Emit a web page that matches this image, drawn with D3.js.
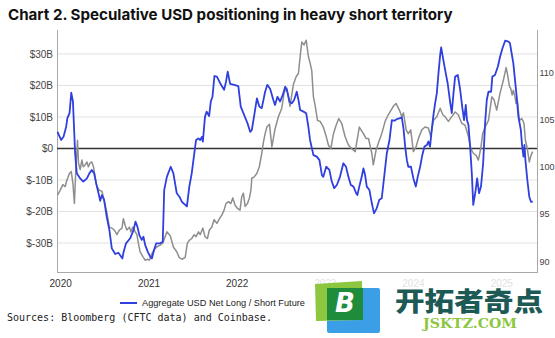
<!DOCTYPE html>
<html>
<head>
<meta charset="utf-8">
<script src="https://cdn.jsdelivr.net/npm/d3@7"></script>
<style>
  html, body { margin: 0; padding: 0; background: #fff; }
  svg { display: block; }
</style>
</head>
<body>
<svg id="chart" width="555" height="338"></svg>
<script>
// Aggregate USD net long / short futures position (CFTC), $ billions
const positionDates = [
  "2019-12-21","2020-01-05","2020-01-15","2020-01-26","2020-01-31","2020-02-09","2020-02-16","2020-02-23","2020-02-28","2020-03-03",
  "2020-03-10","2020-03-24","2020-04-06","2020-04-21","2020-05-01","2020-05-11","2020-05-21","2020-05-29","2020-06-08","2020-06-15",
  "2020-06-22","2020-07-01","2020-07-12","2020-07-23","2020-08-02","2020-08-16","2020-08-29","2020-09-05","2020-09-15","2020-09-19",
  "2020-09-30","2020-10-17","2020-10-31","2020-11-08","2020-11-16","2020-11-24","2020-12-04","2020-12-11","2020-12-18","2020-12-29",
  "2021-01-08","2021-01-15","2021-01-24","2021-02-02","2021-02-18","2021-03-01","2021-03-07","2021-03-18","2021-04-03","2021-04-14",
  "2021-04-28","2021-05-09","2021-05-19","2021-06-02","2021-06-09","2021-06-19","2021-06-29","2021-07-06","2021-07-17","2021-07-27",
  "2021-08-03","2021-08-10","2021-08-14","2021-08-23","2021-08-30","2021-09-09","2021-09-16","2021-09-23","2021-10-01","2021-10-11",
  "2021-10-25","2021-11-10","2021-11-18","2021-11-25","2021-12-05","2021-12-22","2022-01-08","2022-01-18","2022-01-29","2022-02-15",
  "2022-02-26","2022-03-05","2022-03-14","2022-03-26","2022-04-05","2022-04-15","2022-04-29","2022-05-08","2022-05-20","2022-06-02",
  "2022-06-09","2022-06-19","2022-06-30","2022-07-11","2022-07-21","2022-07-28","2022-08-08","2022-08-17","2022-08-27","2022-09-07",
  "2022-09-14","2022-09-21","2022-10-05","2022-10-16","2022-10-25","2022-11-01","2022-11-15","2022-11-29","2022-12-10","2022-12-20",
  "2022-12-26","2023-01-07","2023-01-20","2023-01-30","2023-02-09","2023-02-20","2023-03-05","2023-03-19","2023-03-30","2023-04-09",
  "2023-04-19","2023-04-30","2023-05-11","2023-05-16","2023-05-24","2023-06-03","2023-06-10","2023-06-17","2023-06-24","2023-07-05",
  "2023-07-15","2023-07-24","2023-08-04","2023-08-15","2023-08-25","2023-09-04","2023-09-15","2023-09-26","2023-10-06","2023-10-16",
  "2023-10-26","2023-11-09","2023-11-16","2023-11-23","2023-11-30","2023-12-07","2023-12-13","2023-12-24","2024-01-03","2024-01-13",
  "2024-01-21","2024-01-31","2024-02-09","2024-02-18","2024-02-28","2024-03-05","2024-03-12","2024-03-19","2024-03-26","2024-04-02",
  "2024-04-09","2024-04-16","2024-04-23","2024-04-27","2024-05-06","2024-05-16","2024-05-24","2024-06-03","2024-06-10","2024-06-17",
  "2024-06-24","2024-07-05","2024-07-14","2024-07-24","2024-07-31","2024-08-07","2024-08-12","2024-08-18","2024-08-25","2024-09-01",
  "2024-09-07","2024-09-17","2024-09-23","2024-10-01","2024-10-09","2024-10-18","2024-10-26","2024-11-02","2024-11-09","2024-11-20",
  "2024-11-25","2024-12-06","2024-12-18","2024-12-27","2025-01-06","2025-01-17","2025-01-31","2025-02-06","2025-02-20","2025-03-06",
  "2025-03-13","2025-03-23","2025-03-28","2025-04-03","2025-04-07","2025-04-11","2025-04-19","2025-04-27","2025-05-04","2025-05-11"
];
const positionValues = [
  5.3, 2.7, 3.7, 6.9, 9.6, 11.2, 17.7, 14.9, 5.9, -1.5,
  -7.9, -9.5, -10.5, -9.5, -7.9, -6.8, -7.9, -11.0, -14.2, -16.6,
  -14.8, -16.3, -21.7, -25.9, -31.7, -33.5, -33.1, -33.8, -34.9, -33.1,
  -30.1, -28.5, -25.9, -23.2, -24.8, -27.5, -29.0, -28.0, -30.6, -32.8,
  -34.3, -34.9, -32.2, -30.1, -30.1, -29.6, -13.2, -9.0, -5.8, -7.9,
  -14.2, -15.3, -16.9, -17.9, -18.4, -12.1, -7.9, -3.7, 2.7, 3.2,
  2.7, 3.7, 2.2, 10.1, 11.7, 10.3, 14.9, 16.4, 23.0, 22.8,
  20.7, 18.6, 21.2, 24.4, 20.5, 20.2, 19.8, 13.3, 11.2, 8.0,
  5.3, 5.9, 10.1, 15.9, 13.3, 12.8, 18.0, 20.2, 18.9, 15.4,
  13.8, 16.4, 14.9, 17.0, 19.6, 18.6, 14.9, 14.3, 15.4, 18.0,
  15.4, 12.2, 11.7, 11.2, 6.9, 2.7, -2.1, -2.6, -3.7, -8.4,
  -9.0, -5.8, -6.8, -10.5, -12.6, -11.6, -9.0, -4.7, -5.8, -9.0,
  -11.6, -12.1, -14.2, -14.8, -12.1, -9.0, -6.3, -8.4, -12.1, -13.2,
  -17.4, -20.6, -19.0, -16.3, -15.8, -9.0, -1.5, 2.7, 9.0, 8.8,
  9.3, 9.6, 9.9, 6.4, 0.6, -3.7, -5.8, -5.8, -9.5, -12.1,
  -9.0, -5.8, -2.1, 0.6, 1.1, 2.2, 0.6, 5.9, 10.6, 14.3,
  17.5, 23.9, 29.7, 32.1, 28.1, 23.9, 20.7, 14.9, 11.2, 17.5,
  22.8, 23.3, 19.1, 12.8, 9.0, 13.8, 9.0, 7.5, 0.6, -7.9,
  -17.9, -13.2, -9.5, -14.2, -12.1, -4.7, 8.0, 15.4, 18.0, 18.0,
  22.8, 23.3, 26.0, 29.1, 31.8, 34.2, 33.9, 33.4, 27.0, 16.4,
  10.1, 5.9, 1.1, -2.6, 1.1, -3.7, -10.0, -15.3, -16.9, -16.9
];

// US dollar index (right axis)
const dxyDates = [
  "2019-12-21","2020-01-01","2020-01-12","2020-01-22","2020-01-29","2020-02-09","2020-02-16","2020-02-23","2020-02-29","2020-03-06",
  "2020-03-13","2020-03-17","2020-03-24","2020-03-31","2020-04-06","2020-04-14","2020-04-21","2020-04-27","2020-05-04","2020-05-11",
  "2020-05-18","2020-05-25","2020-06-01","2020-06-12","2020-06-22","2020-07-01","2020-07-12","2020-07-23","2020-08-02","2020-08-12",
  "2020-08-23","2020-09-03","2020-09-13","2020-09-19","2020-09-26","2020-10-03","2020-10-14","2020-10-20","2020-10-28","2020-11-07",
  "2020-11-14","2020-11-20","2020-11-27","2020-12-08","2020-12-18","2020-12-28","2021-01-05","2021-01-15","2021-01-24","2021-02-04",
  "2021-02-18","2021-03-01","2021-03-18","2021-04-01","2021-04-14","2021-04-28","2021-05-08","2021-05-19","2021-06-02","2021-06-11",
  "2021-06-19","2021-06-29","2021-07-09","2021-07-17","2021-07-27","2021-08-03","2021-08-14","2021-08-23","2021-09-02","2021-09-10",
  "2021-09-20","2021-09-30","2021-10-11","2021-10-22","2021-11-01","2021-11-10","2021-11-18","2021-11-28","2021-12-08","2021-12-16",
  "2021-12-26","2022-01-04","2022-01-15","2022-01-22","2022-01-29","2022-02-05","2022-02-15","2022-02-23","2022-03-01","2022-03-05",
  "2022-03-14","2022-03-26","2022-04-05","2022-04-15","2022-04-22","2022-04-29","2022-05-06","2022-05-17","2022-05-27","2022-06-09",
  "2022-06-23","2022-07-07","2022-07-17","2022-07-28","2022-08-10","2022-08-24","2022-09-04","2022-09-14","2022-09-24","2022-09-28",
  "2022-10-07","2022-10-16","2022-10-25","2022-11-01","2022-11-08","2022-11-15","2022-11-22","2022-12-02","2022-12-13","2022-12-26",
  "2023-01-07","2023-01-16","2023-01-26","2023-02-06","2023-02-17","2023-02-28","2023-03-12","2023-03-26","2023-04-09","2023-04-23",
  "2023-05-07","2023-05-24","2023-06-10","2023-06-21","2023-07-01","2023-07-15","2023-07-21","2023-08-02","2023-08-15","2023-08-25",
  "2023-09-08","2023-09-21","2023-10-12","2023-10-23","2023-11-06","2023-11-16","2023-11-23","2023-12-04","2023-12-13","2023-12-23",
  "2024-01-03","2024-01-14","2024-01-24","2024-02-07","2024-02-20","2024-03-05","2024-03-15","2024-03-26","2024-04-09","2024-04-23",
  "2024-05-04","2024-05-13","2024-05-27","2024-06-10","2024-06-24","2024-07-07","2024-07-21","2024-08-04","2024-08-18","2024-08-28",
  "2024-09-08","2024-09-19","2024-09-28","2024-10-08","2024-10-16","2024-10-26","2024-11-09","2024-11-23","2024-12-02","2024-12-13",
  "2024-12-27","2025-01-10","2025-01-21","2025-01-26","2025-02-04","2025-02-09","2025-02-15","2025-02-20","2025-02-27","2025-03-03",
  "2025-03-09","2025-03-17","2025-03-27","2025-04-05","2025-04-11","2025-04-19","2025-04-27","2025-05-03","2025-05-11"
];
const dxyValues = [
  97.0, 97.5, 98.1, 97.9, 98.6, 99.3, 99.5, 98.2, 96.1, 99.7,
  102.8, 100.4, 99.7, 100.7, 100.0, 100.2, 100.5, 100.0, 100.4, 100.5,
  100.0, 98.9, 97.9, 97.5, 97.4, 96.5, 95.2, 93.6, 93.5, 93.3,
  92.8, 93.3, 93.5, 94.5, 93.8, 93.3, 93.6, 93.1, 93.6, 93.1,
  92.8, 91.9, 91.0, 90.5, 90.1, 90.2, 90.1, 90.8, 91.2, 91.5,
  91.7, 91.9, 93.1, 92.7, 91.5, 91.0, 90.4, 90.2, 90.4, 91.9,
  92.2, 92.4, 92.8, 92.6, 93.1, 92.8, 93.5, 92.6, 92.4, 93.3,
  93.6, 94.4, 94.0, 94.5, 94.9, 95.4, 96.1, 96.3, 96.1, 96.7,
  95.9, 95.6, 95.4, 96.8, 97.2, 95.8, 96.1, 96.7, 97.5, 98.8,
  98.9, 99.3, 100.0, 101.4, 102.6, 103.5, 104.2, 104.5, 102.1, 104.0,
  105.3, 106.2, 107.9, 108.3, 106.4, 108.7, 109.5, 109.9, 112.4, 113.2,
  112.9, 113.4, 111.7, 111.0, 110.2, 107.4, 106.5, 104.9, 104.8, 104.2,
  103.2, 102.3, 101.9, 103.5, 104.4, 105.1, 104.6, 103.2, 102.3, 101.9,
  101.6, 104.2, 103.5, 103.0, 103.0, 101.4, 100.2, 101.8, 102.8, 103.5,
  104.8, 105.5, 106.4, 106.7, 106.0, 105.3, 105.7, 103.9, 103.5, 103.9,
  101.6, 102.1, 103.0, 103.9, 104.2, 104.1, 103.2, 104.9, 105.3, 106.2,
  105.5, 105.3, 104.8, 105.3, 105.8, 105.5, 104.6, 104.4, 103.2, 101.9,
  101.4, 101.2, 100.7, 101.9, 103.5, 104.2, 104.9, 107.4, 107.1, 106.0,
  107.8, 109.2, 110.5, 109.9, 108.5, 108.3, 107.6, 108.1, 107.4, 106.7,
  106.9, 104.9, 105.1, 104.6, 102.8, 101.9, 100.5, 101.1, 101.6
];

const leftTicks = [-30, -20, -10, 0, 10, 20, 30];
const rightTicks = [90, 95, 100, 105, 110];
const yearTicks = [2020, 2021, 2022, 2023, 2024, 2025];
const fadedYears = [2023, 2024, 2025];

const titleText = "Chart 2. Speculative USD positioning in heavy short territory";
const legendText = "Aggregate USD Net Long / Short Future";
const sourceText = "Sources: Bloomberg (CFTC data) and Coinbase.";

const parse = d3.timeParse("%Y-%m-%d");
const positions = positionDates.map((d, i) => ({ date: parse(d), value: positionValues[i] }));
const dxy = dxyDates.map((d, i) => ({ date: parse(d), value: dxyValues[i] }));

const svg = d3.select("#chart");
const plot = { left: 57, right: 537, top: 30, bottom: 272 };

const x = d3.scaleTime()
  .domain([parse("2019-12-19"), parse("2025-05-29")])
  .range([plot.left, plot.right]);
const yLeft = d3.scaleLinear().domain([-39.2, 37.6]).range([plot.bottom, plot.top]);
const yRight = d3.scaleLinear().domain([88.85, 114.48]).range([plot.bottom, plot.top]);

// Title
const title = svg.append("text")
  .attr("x", 8).attr("y", 20)
  .attr("font-family", "Inter, 'Liberation Sans', Arial, sans-serif")
  .attr("font-weight", 700)
  .attr("font-size", 16)
  .attr("fill", "#111")
  .text(titleText);
const tw = title.node().getComputedTextLength();
title.attr("font-size", 16 * 445 / tw);

// Horizontal gridlines
svg.append("g")
  .selectAll("line")
  .data(leftTicks.filter(t => t !== 0))
  .join("line")
  .attr("x1", plot.left).attr("x2", plot.right)
  .attr("y1", d => yLeft(d)).attr("y2", d => yLeft(d))
  .attr("stroke", "#e2e2e2").attr("stroke-width", 1);

// Frame: left, right, bottom
const frame = svg.append("g").attr("stroke", "#a8a8a8").attr("stroke-width", 1);
frame.append("line").attr("x1", plot.left + 0.5).attr("x2", plot.left + 0.5).attr("y1", plot.top).attr("y2", plot.bottom);
frame.append("line").attr("x1", plot.right + 0.5).attr("x2", plot.right + 0.5).attr("y1", plot.top).attr("y2", plot.bottom);
frame.append("line").attr("x1", plot.left).attr("x2", plot.right + 1).attr("y1", plot.bottom + 0.5).attr("y2", plot.bottom + 0.5);

// Left axis labels
const leftAxis = d3.axisLeft(yLeft)
  .tickValues(leftTicks)
  .tickSize(0)
  .tickPadding(4)
  .tickFormat(d => d === 0 ? "$0" : `$${d}B`);
const gl = svg.append("g").attr("transform", `translate(${plot.left},0)`).call(leftAxis);
gl.select(".domain").remove();
gl.selectAll("text")
  .attr("font-family", "'Liberation Sans', Arial, sans-serif")
  .attr("font-size", 10).attr("fill", "#444");

// Right axis labels
const rightAxis = d3.axisRight(yRight)
  .tickValues(rightTicks)
  .tickSize(0)
  .tickPadding(2.5)
  .tickFormat(d3.format("d"));
const gr = svg.append("g").attr("transform", `translate(${plot.right},0)`).call(rightAxis);
gr.select(".domain").remove();
gr.selectAll("text")
  .attr("font-family", "'Liberation Sans', Arial, sans-serif")
  .attr("font-size", 9).attr("fill", "#444");

// Year labels (the later ones sit under the site badge and are washed out)
const bottomAxis = d3.axisBottom(x)
  .tickValues(yearTicks.map(y => new Date(y, 0, 1)))
  .tickSize(0)
  .tickPadding(8)
  .tickFormat(d3.timeFormat("%Y"));
const gb = svg.append("g").attr("transform", `translate(0,${plot.bottom})`).call(bottomAxis);
gb.select(".domain").remove();
gb.selectAll("text")
  .attr("font-family", "'Liberation Sans', Arial, sans-serif")
  .attr("font-size", 10)
  .attr("fill", d => fadedYears.includes(d.getFullYear()) ? "#e2e2e2" : "#333");

// Zero line
svg.append("line")
  .attr("x1", plot.left).attr("x2", plot.right)
  .attr("y1", yLeft(0)).attr("y2", yLeft(0))
  .attr("stroke", "#333").attr("stroke-width", 1.6);

// Series
const lineDxy = d3.line().x(d => x(d.date)).y(d => yRight(d.value)).curve(d3.curveLinear);
const linePos = d3.line().x(d => x(d.date)).y(d => yLeft(d.value)).curve(d3.curveLinear);

svg.append("path").datum(dxy)
  .attr("d", lineDxy)
  .attr("fill", "none").attr("stroke", "#8e8e8e").attr("stroke-width", 1.5)
  .attr("stroke-linejoin", "round");

svg.append("path").datum(positions)
  .attr("d", linePos)
  .attr("fill", "none").attr("stroke", "#2f3fe0").attr("stroke-width", 1.8)
  .attr("stroke-linejoin", "round");

// Legend
const legend = svg.append("g").attr("transform", "translate(120,303)");
legend.append("line").attr("x1", 0).attr("x2", 17).attr("y1", 0).attr("y2", 0)
  .attr("stroke", "#2f3fe0").attr("stroke-width", 2);
legend.append("text").attr("x", 22).attr("y", 3.3)
  .attr("font-family", "'Liberation Sans', Arial, sans-serif")
  .attr("font-size", 9.2).attr("fill", "#222")
  .text(legendText);

// Source note
svg.append("text").attr("x", 7).attr("y", 321)
  .attr("font-family", "'DejaVu Sans Mono', monospace")
  .attr("font-size", 10).attr("fill", "#222")
  .text(sourceText);

// Site badge in the lower right corner
const badge = svg.append("g");
badge.append("rect").attr("x", 327).attr("y", 288).attr("width", 53).attr("height", 45).attr("rx", 2)
  .attr("fill", "#3a9fe6");
badge.append("path").attr("d", "M315,284 L362,281 L363,320 L316,321 Z").attr("fill", "#8dc63f");
badge.append("path").attr("d", "M327,288 L363,288 L363,320 L327,320 Z").attr("fill", "#1f8c3b");
badge.append("text").attr("x", 345).attr("y", 312)
  .attr("text-anchor", "middle")
  .attr("font-family", "'DejaVu Sans', sans-serif")
  .attr("font-weight", 700).attr("font-style", "italic")
  .attr("font-size", 26).attr("fill", "#fff")
  .text("B");
badge.append("text").attr("x", 395).attr("y", 311)
  .attr("font-family", "'Noto Sans CJK SC', sans-serif")
  .attr("font-weight", 900)
  .attr("font-size", 26).attr("fill", "#1d5a55")
  .attr("textLength", 148).attr("lengthAdjust", "spacingAndGlyphs")
  .text("开拓者奇点");
badge.append("text").attr("x", 423).attr("y", 328)
  .attr("font-family", "'DejaVu Serif', serif")
  .attr("font-weight", 700)
  .attr("font-size", 12).attr("fill", "#8dc63f")
  .attr("textLength", 94).attr("lengthAdjust", "spacingAndGlyphs")
  .text("JSKTZ.COM");
</script>
</body>
</html>
